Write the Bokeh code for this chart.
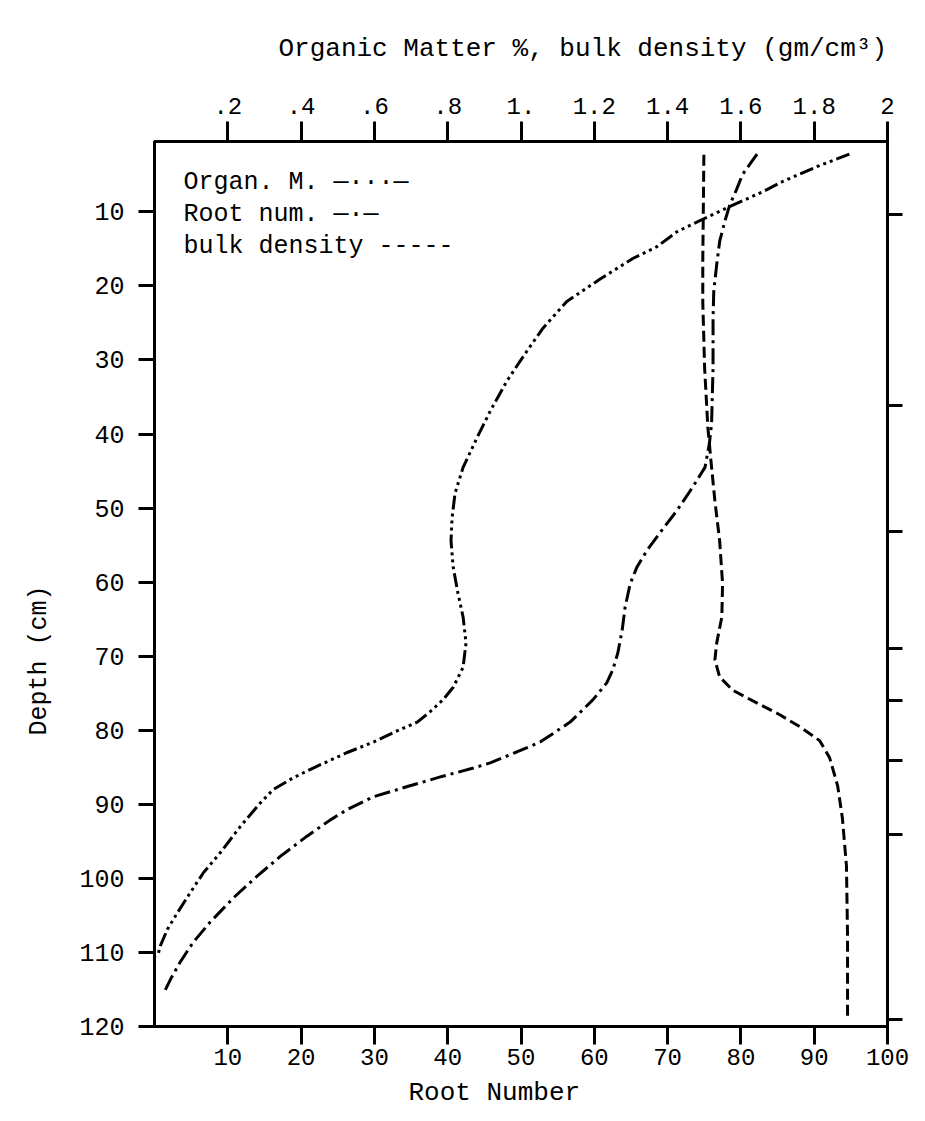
from bokeh.plotting import figure
from bokeh.models import Range1d, LinearAxis, FixedTicker, Label, Title
from bokeh.embed import file_html
from bokeh.resources import INLINE

# ---------------- data ----------------
om_depth = [2.2, 3.9, 5.9, 7.3, 9.3, 11.0, 12.7, 14.7, 16.3, 19.1, 22.1, 25.7, 28.8, 32.8,
            36.9, 40.5, 44.5, 48.0, 51.3, 54.4, 58.0, 61.5, 64.7, 68.2, 71.5, 74.2, 75.9,
            77.5, 78.9, 79.9, 81.6, 83.0, 85.1, 86.4, 88.0, 89.8, 93.0, 96.5, 99.2, 101.9,
            104.6, 106.9, 109.1, 110.6]
om_pct = [1.896, 1.807, 1.714, 1.659, 1.569, 1.496, 1.425, 1.371, 1.305, 1.215, 1.125, 1.060,
          1.016, 0.962, 0.916, 0.880, 0.842, 0.820, 0.812, 0.809, 0.815, 0.828, 0.842, 0.850,
          0.842, 0.815, 0.787, 0.752, 0.717, 0.670, 0.597, 0.526, 0.433, 0.379, 0.324, 0.289,
          0.234, 0.180, 0.134, 0.098, 0.063, 0.035, 0.016, 0.008]

root_depth = [2.2, 3.6, 5.0, 7.0, 9.0, 11.3, 14.0, 17.1, 20.7, 24.4, 31.1, 38.6, 41.3, 44.5,
              47.2, 50.3, 53.4, 55.7, 58.0, 60.2, 63.4, 66.5, 69.6, 71.9, 73.6, 75.9, 78.9,
              81.6, 82.9, 84.4, 85.1, 86.3, 87.6, 89.0, 90.7, 92.1, 94.3, 97.0, 99.7, 102.6,
              105.9, 108.6, 111.3, 113.6, 115.6]
root_num = [82.2, 81.2, 80.2, 79.4, 78.5, 77.8, 77.1, 76.7, 76.3, 76.2, 76.2, 76.0, 75.7, 75.1,
            73.4, 71.3, 68.9, 67.2, 65.8, 64.9, 64.2, 63.8, 63.2, 62.5, 61.7, 59.8, 56.7,
            52.6, 49.5, 45.8, 43.5, 39.0, 34.5, 29.8, 26.3, 24.0, 20.8, 17.2, 14.0, 10.8,
            7.6, 5.3, 3.5, 2.2, 1.2]

bd_depth = [2.3, 16.7, 22.1, 31.1, 39.2, 44.5, 49.0, 54.4, 60.2, 64.7, 68.2, 70.5, 72.8,
            74.6, 75.6, 77.9, 79.5, 81.4, 83.7, 87.5, 91.9, 98.3, 107.8, 118.6]
bd_val = [1.499, 1.496, 1.496, 1.501, 1.510, 1.520, 1.529, 1.542, 1.550, 1.548, 1.534, 1.529,
          1.542, 1.578, 1.616, 1.706, 1.760, 1.815, 1.842, 1.864, 1.877, 1.888, 1.891, 1.891]

root_ticks = [10, 20, 30, 40, 50, 60, 70, 80, 90, 100]
om_ticks = [0.2, 0.4, 0.6, 0.8, 1.0, 1.2, 1.4, 1.6, 1.8, 2.0]
om_tick_labels = [".2", ".4", ".6", ".8", "1.", "1.2", "1.4", "1.6", "1.8", "2"]
depth_ticks = [10, 20, 30, 40, 50, 60, 70, 80, 90, 100, 110, 120]
horizon_ticks = [10.4, 36.2, 53.2, 69.0, 76.0, 84.1, 94.1, 119.0]

legend_lines = ["Organ. M. \u2014\u00b7\u00b7\u00b7\u2014",
                "Root num. \u2014\u00b7\u2014",
                "bulk density -----"]

# ---------------- layout ----------------
W, H = 925, 1121
FL, FR, FT, FB = 154, 887, 140, 1026   # frame edges in pixels
X0, X1 = 0.0, 100.0
Y_TOP, Y_BOT = 0.5, 120.0
FONT = "Liberation Mono"


def px_x(px):
    return X0 + (px - FL) / (FR - FL) * (X1 - X0)


def px_y(py):
    return Y_TOP + (py - FT) / (FB - FT) * (Y_BOT - Y_TOP)


p = figure(width=W, height=H, output_backend="svg", toolbar_location=None,
           x_range=Range1d(X0, X1), y_range=Range1d(Y_BOT, Y_TOP),
           x_axis_location=None, y_axis_location=None,
           min_border_left=FL, min_border_right=W - FR,
           min_border_top=FT, min_border_bottom=H - FB,
           background_fill_color="white", border_fill_color="white")
p.extra_x_ranges = {"om": Range1d(0.0, 2.0)}
p.grid.visible = False
p.outline_line_color = "black"
p.outline_line_width = 3


def style_axis(ax, size, out, standoff):
    ax.axis_line_color = "black"
    ax.axis_line_width = 3
    ax.major_tick_line_color = "black"
    ax.major_tick_line_width = 3
    ax.major_tick_in = 0
    ax.major_tick_out = out
    ax.minor_tick_line_color = None
    ax.major_label_text_font = FONT
    ax.major_label_text_font_size = size
    ax.major_label_text_color = "black"
    ax.major_label_standoff = standoff


bottom = LinearAxis(ticker=FixedTicker(ticks=root_ticks))
style_axis(bottom, "24px", 18, 4)
p.add_layout(bottom, "below")

top = LinearAxis(x_range_name="om", ticker=FixedTicker(ticks=om_ticks))
top.major_label_overrides = {t: s for t, s in zip(om_ticks, om_tick_labels)}
style_axis(top, "24px", 20, 8)
p.add_layout(top, "above")

left = LinearAxis(ticker=FixedTicker(ticks=depth_ticks))
style_axis(left, "25px", 16, 14)
p.add_layout(left, "left")

right = LinearAxis(ticker=FixedTicker(ticks=horizon_ticks))
right.major_label_overrides = {t: "" for t in horizon_ticks}
style_axis(right, "1px", 15, 0)
p.add_layout(right, "right")

# ---------------- axis titles (as Title panels, offset like the original) ----------------
p.add_layout(Title(text="Organic Matter %, bulk density (gm/cm\u00b3)", align="left",
                   offset=278 - FL, standoff=62, text_line_height=0.5,
                   text_font=FONT, text_font_size="26px",
                   text_font_style="normal", text_color="black"), "above")
p.add_layout(Title(text="Root Number", align="left", offset=408 - FL, standoff=16,
                   text_font=FONT, text_font_size="26px", text_font_style="normal",
                   text_color="black"), "below")
p.add_layout(Title(text="Depth (cm)", align="left", offset=FB - 735, standoff=45,
                   text_line_height=0.5,
                   text_font=FONT, text_font_size="25px", text_font_style="normal",
                   text_color="black"), "left")

# ---------------- curves ----------------
p.line(om_pct, om_depth, x_range_name="om", line_color="black", line_width=3,
       line_dash="14 4 3 4 3 4 3 4")
p.line(root_num, root_depth, line_color="black", line_width=3, line_dash="16 5 3 5")
p.line(bd_val, bd_depth, x_range_name="om", line_color="black", line_width=3,
       line_dash="11 5")

# ---------------- legend (typed, as in the original) ----------------
for i, s in enumerate(legend_lines):
    p.add_layout(Label(x=px_x(183), y=px_y(181 + 32 * i), text=s, text_font=FONT,
                       text_font_size="25px", text_color="black",
                       text_align="left", text_baseline="middle"))

open("out.html", "w").write(file_html(p, INLINE))
